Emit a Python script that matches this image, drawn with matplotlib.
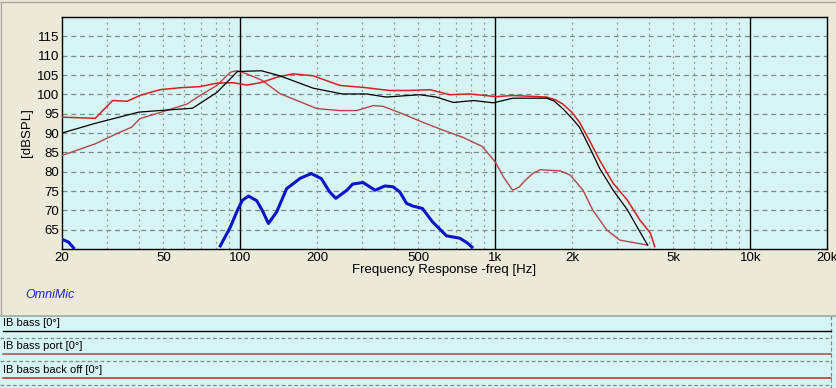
import numpy as np
import matplotlib
matplotlib.use("Agg")
import matplotlib.pyplot as plt

plt.rcParams['font.family'] = ['Liberation Sans', 'DejaVu Sans']

# ---- data (freq in Hz, level in dBSPL) ----
bass_f = [20, 27, 40, 48, 65, 81, 97.5, 121, 143, 157, 193, 251, 312, 374, 505, 587, 685,
          822, 985, 1170, 1590, 1700, 1840, 2000, 2140, 2340, 2570, 2900, 3300, 3600, 3960]
bass_db = [90, 92.5, 95.4, 95.8, 96.4, 100.5, 105.9, 106.1, 104.8, 103.8, 101.6, 100.1, 100.1,
           99.3, 99.9, 99.3, 97.9, 98.4, 97.8, 99, 99, 98.3, 96.3, 93.8, 91.5, 86.4, 80.8,
           75.2, 70.1, 65.7, 61]

port_f = [20, 27, 32.7, 37.5, 40.4, 51.3, 61.9, 69.6, 81, 91.4, 97, 106, 122, 143, 167, 200,
          246, 286, 333, 363, 432, 518, 644, 745, 890, 1000, 1080, 1170, 1240, 1300, 1400,
          1500, 1800, 1970, 2210, 2410, 2740, 3080, 3600, 3960]
port_db = [84.2, 87.2, 89.8, 91.5, 93.7, 95.8, 97.5, 99.7, 102.3, 105.7, 106.1, 105.3, 103.6,
           100.2, 98.4, 96.3, 95.8, 95.8, 97.1, 96.9, 95, 92.8, 90.4, 88.9, 86.5, 82.5, 78.5,
           75.2, 76, 77.5, 79.5, 80.5, 80.2, 79.1, 75.2, 70.1, 64.9, 62.3, 61.5, 61]

backoff_f = [20, 27, 31.6, 36, 40.4, 48.4, 58, 69.6, 81, 94, 106, 120, 139, 161, 193, 246, 303,
             384, 460, 555, 663, 794, 1010, 1170, 1590, 1720, 1840, 2000, 2140, 2340, 2570,
             2900, 3300, 3690, 4060, 4220]
backoff_db = [94.1, 93.8, 98.4, 98.2, 99.7, 101.2, 101.7, 102, 102.9, 103, 102.4, 103, 104.4,
              105.3, 104.8, 102.3, 101.8, 101, 101, 101.2, 99.9, 100.1, 99.4, 99.7, 99.3, 98.6,
              97.5, 95.3, 92.8, 88.1, 82.9, 77, 72.6, 67.5, 64.1, 60.6]

# blue trace (no legend entry), nan = gap where it is below the plot floor
blue_f = [20, 21.2, 22.2, np.nan, 83.5, 91.5, 97.6, 102, 107.7, 116, 122, 129, 139, 152, 172,
          190, 208, 224, 237, 262, 276, 303, 338, 369, 397, 422, 449, 475, 518, 568, 644, 726,
          780, 810]
blue_db = [62.5, 61.8, 60.3, np.nan, 60.8, 65.7, 70.1, 72.6, 73.7, 72.5, 70, 66.6, 69.6, 75.6,
           78.3, 79.5, 78.2, 74.8, 73.1, 75.2, 76.8, 77.2, 75.2, 76.3, 76.1, 74.8, 71.8, 71.1,
           70.5, 67, 63.4, 62.8, 61.5, 60.5]

y_ticks = [65, 70, 75, 80, 85, 90, 95, 100, 105, 110, 115]
x_ticks = [20, 50, 100, 200, 500, 1000, 2000, 5000, 10000, 20000]
x_labels = ['20', '50', '100', '200', '500', '1k', '2k', '5k', '10k', '20k']

legend_names = ['IB bass [0°]', 'IB bass port [0°]', 'IB bass back off [0°]']
legend_colors = ['black', '#b04848', '#d42020']

BG = '#ece9d8'
PLOT_BG = '#d7f4f4'
W, H = 837, 388

fig = plt.figure(figsize=(W / 100, H / 100), dpi=100, facecolor=BG)

ax = fig.add_axes([62 / W, (H - 249) / H, 765 / W, 232 / H])
ax.set_facecolor(PLOT_BG)
ax.set_xscale('log')
ax.set_xlim(20, 20000)
ax.set_ylim(60, 120)

# grid: dashed horizontals, dotted verticals, solid decade lines
for v in y_ticks:
    ax.axhline(v, color='#7a8a8a', lw=0.9, ls=(0, (4, 3)), zorder=1)
for dec in [10, 100, 1000, 10000]:
    for m in range(2, 10):
        f = dec * m
        if 20 < f < 20000:
            ax.axvline(f, color='#8a9a9a', lw=0.9, ls=(0, (1.5, 3)), zorder=1)
for f in [100, 1000, 10000]:
    ax.axvline(f, color='black', lw=1.0, zorder=2)

ax.plot(port_f, port_db, color=legend_colors[1], lw=1.0, zorder=3)
ax.plot(backoff_f, backoff_db, color=legend_colors[2], lw=1.1, zorder=4)
ax.plot(bass_f, bass_db, color=legend_colors[0], lw=0.9, zorder=5)
ax.plot(blue_f, blue_db, color='#0a14c8', lw=2.2, zorder=6)

ax.set_yticks(y_ticks)
ax.set_xticks(x_ticks)
ax.set_xticklabels(x_labels)
ax.xaxis.set_minor_locator(matplotlib.ticker.NullLocator())
ax.tick_params(length=0, labelsize=9.5, pad=2)
ax.set_xlabel('Frequency Response -freq [Hz]', fontsize=9.5, labelpad=0)
ax.set_ylabel('[dBSPL]', fontsize=9.5, labelpad=3)
for s in ax.spines.values():
    s.set_color('black')
    s.set_linewidth(1.0)

fig.text(25 / W, 1 - 295 / H, 'OmniMic', color='#2424c0', fontsize=9, style='italic',
         va='center', ha='left')

# outer frame of the chart panel
frame = fig.add_axes([0, 0, 1, 1], zorder=-1)
frame.set_xlim(0, W)
frame.set_ylim(H, 0)
frame.axis('off')
frame.plot([1.5, 1.5], [1.5, 314], color='#a8a8a0', lw=1)
frame.plot([1.5, 835], [1.5, 1.5], color='#a8a8a0', lw=1)

# legend strip at the bottom
leg = fig.add_axes([0, 0, 1, 73 / H])
leg.set_facecolor(PLOT_BG)
leg.set_xlim(0, W)
leg.set_ylim(H, H - 73)
leg.set_xticks([])
leg.set_yticks([])
for s in leg.spines.values():
    s.set_visible(False)
leg.axhline(H - 72.5, color='#a0a8a0', lw=1.2)
leg.plot([831, 831], [H - 72, H], color='#7a8a8a', lw=0.9, ls=(0, (3, 2)))
for i, (name, col) in enumerate(zip(legend_names, legend_colors)):
    top = 316 + i * 23.3
    leg.text(3, top + 7, name, fontsize=8, va='center', ha='left',
             family=['Liberation Sans Narrow', 'Liberation Sans'])
    leg.plot([3, 831], [top + 15, top + 15], color=col, lw=1.0 if i == 0 else 1.1)
    leg.plot([0, 831], [top + 22, top + 22], color='#7a8a8a', lw=0.9, ls=(0, (3, 2)))

fig.savefig('out.png', dpi=100, facecolor=BG)
